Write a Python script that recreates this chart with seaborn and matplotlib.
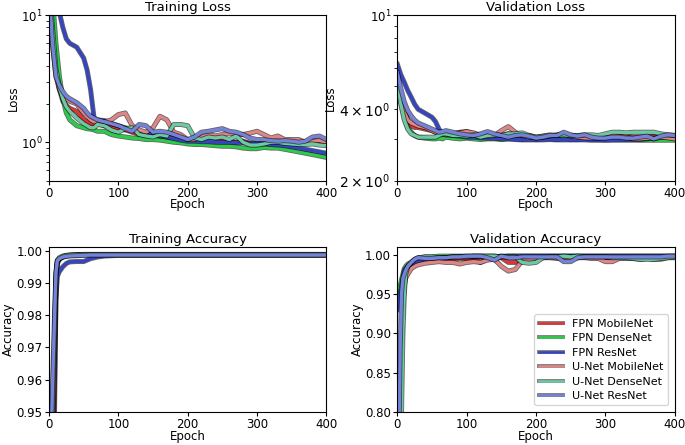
import matplotlib
matplotlib.use('Agg')
import matplotlib.pyplot as plt
import matplotlib.patheffects as pe
import matplotlib.ticker as mticker
import pandas as pd
import seaborn as sns

# ── Data ──────────────────────────────────────────────────────────────────
MODELS = ['FPN MobileNet', 'FPN DenseNet', 'FPN ResNet',
          'U-Net MobileNet', 'U-Net DenseNet', 'U-Net ResNet']
COLORS = ['#dd3535', '#2bcc4a', '#3545c0', '#de8585', '#6cc9a3', '#7482da']

EPOCHS_LOSS = [0, 5, 10, 15, 20, 25, 30, 40, 50, 55, 60, 65, 70,
               80, 90, 100, 110, 120, 130, 140, 150, 160, 170, 180, 190, 200,
               210, 220, 230, 240, 250, 260, 270, 280, 290, 300,
               310, 320, 330, 340, 350, 360, 370, 380, 390, 400]

EPOCHS_ACC = [0, 2, 4, 6, 8, 10, 12, 15, 20, 25, 30, 40, 50, 60,
              70, 80, 90, 100, 110, 120, 130, 140, 150, 160, 170, 180, 190, 200,
              210, 220, 230, 240, 250, 260, 270, 280, 290, 300,
              310, 320, 330, 340, 350, 360, 370, 380, 390, 400]

train_loss_fpn_mobile = [20, 7, 3.6, 2.6, 2.1, 1.95, 1.85, 1.75, 1.5, 1.45, 1.4, 1.38, 1.4,
                         1.35, 1.3, 1.28, 1.25, 1.2, 1.15, 1.15, 1.12, 1.1, 1.08, 1.1, 1.05, 1.03,
                         1.05, 1.08, 1.1, 1.08, 1.05, 1.02, 1.0, 1.02, 0.98, 0.97,
                         1.0, 0.98, 1.0, 1.02, 1.0, 1.03, 0.99, 1.04, 1.0, 0.97]
train_loss_fpn_dense = [30, 14, 6, 3.3, 2.2, 1.7, 1.5, 1.35, 1.3, 1.28, 1.27, 1.25, 1.22,
                        1.22, 1.15, 1.12, 1.1, 1.08, 1.07, 1.05, 1.05, 1.04, 1.02, 1.0, 0.99, 0.97,
                        0.96, 0.96, 0.95, 0.94, 0.93, 0.93, 0.92, 0.9, 0.89, 0.89,
                        0.91, 0.9, 0.9, 0.88, 0.86, 0.84, 0.82, 0.8, 0.78, 0.76]
train_loss_fpn_res = [40, 22, 14, 10.5, 8, 6.5, 6.0, 5.6, 4.6, 3.7, 2.6, 1.55, 1.5,
                      1.48, 1.4, 1.35, 1.3, 1.25, 1.2, 1.18, 1.15, 1.12, 1.1, 1.07, 1.04, 1.02,
                      1.02, 1.01, 1.01, 1.0, 1.0, 1.0, 0.99, 0.99, 0.98, 0.98,
                      0.97, 0.96, 0.95, 0.94, 0.92, 0.9, 0.88, 0.86, 0.84, 0.82]
train_loss_unet_mobile = [18, 6, 3.3, 2.6, 2.3, 2.2, 2.1, 2.0, 1.7, 1.6, 1.5, 1.45, 1.45,
                          1.45, 1.5, 1.65, 1.7, 1.35, 1.25, 1.2, 1.3, 1.6, 1.5, 1.2, 1.15, 1.05,
                          1.05, 1.1, 1.15, 1.12, 1.15, 1.18, 1.15, 1.15, 1.18, 1.22,
                          1.15, 1.08, 1.12, 1.05, 1.05, 1.05, 1.0, 1.02, 1.03, 1.0]
train_loss_unet_dense = [20, 8, 3.8, 2.7, 2.2, 1.9, 1.75, 1.55, 1.4, 1.35, 1.3, 1.3, 1.38,
                         1.35, 1.25, 1.2, 1.28, 1.3, 1.15, 1.12, 1.1, 1.15, 1.12, 1.38, 1.38, 1.35,
                         1.08, 1.05, 1.1, 1.08, 1.1, 1.05, 1.12, 1.0, 0.95, 0.95,
                         0.97, 1.0, 1.0, 0.98, 0.97, 0.96, 0.96, 0.97, 0.95, 0.94]
train_loss_unet_res = [16, 6, 3.3, 2.8, 2.5, 2.3, 2.2, 2.05, 1.85, 1.7, 1.6, 1.55, 1.5,
                       1.45, 1.4, 1.35, 1.28, 1.22, 1.38, 1.35, 1.2, 1.22, 1.2, 1.15, 1.1, 1.05,
                       1.1, 1.2, 1.22, 1.25, 1.28, 1.22, 1.2, 1.15, 1.08, 1.05,
                       1.05, 1.03, 1.02, 1.03, 1.02, 1.0, 1.02, 1.1, 1.12, 1.05]

val_loss_fpn_mobile = [5.5, 4.6, 4.0, 3.6, 3.4, 3.35, 3.35, 3.3, 3.25, 3.2, 3.2, 3.18, 3.15,
                       3.15, 3.2, 3.22, 3.15, 3.12, 3.15, 3.1, 3.1, 3.15, 3.12, 3.08, 3.1, 3.05,
                       3.08, 3.1, 3.08, 3.12, 3.1, 3.08, 3.05, 3.08, 3.05, 3.05,
                       3.08, 3.1, 3.08, 3.05, 3.05, 3.05, 3.08, 3.05, 3.02, 3.02]
val_loss_fpn_dense = [5.3, 4.3, 3.7, 3.35, 3.2, 3.1, 3.05, 3.02, 3.0, 3.0, 3.02, 3.0, 3.05,
                      3.02, 3.0, 3.02, 3.0, 2.98, 3.0, 3.0, 2.98, 3.0, 3.0, 2.98, 3.0, 2.98,
                      3.0, 3.0, 2.98, 3.0, 2.98, 2.98, 3.0, 2.98, 2.98, 2.97,
                      2.98, 2.97, 2.97, 2.97, 2.96, 2.96, 2.96, 2.96, 2.96, 2.96]
val_loss_fpn_res = [6.2, 5.6, 5.2, 4.8, 4.5, 4.2, 4.0, 3.85, 3.7, 3.55, 3.3, 3.15, 3.12,
                    3.1, 3.08, 3.05, 3.05, 3.03, 3.02, 3.02, 3.0, 3.0, 2.98, 2.97, 2.97, 2.97,
                    2.97, 2.98, 2.97, 2.97, 2.97, 2.97, 2.97, 2.96, 2.96, 2.96,
                    2.96, 2.97, 2.97, 2.97, 2.98, 3.0, 3.02, 3.05, 3.05, 3.05]
val_loss_unet_mobile = [5.4, 4.5, 3.9, 3.6, 3.5, 3.45, 3.4, 3.35, 3.25, 3.2, 3.15, 3.15, 3.12,
                        3.15, 3.18, 3.22, 3.18, 3.1, 3.08, 3.1, 3.25, 3.38, 3.2, 3.1, 3.05, 3.03,
                        3.05, 3.08, 3.12, 3.15, 3.08, 3.05, 3.03, 3.02, 3.02, 3.05,
                        3.1, 3.08, 3.05, 3.0, 3.0, 3.02, 3.0, 3.05, 3.03, 3.0]
val_loss_unet_dense = [5.2, 4.2, 3.6, 3.3, 3.15, 3.1, 3.05, 3.05, 3.05, 3.05, 3.1, 3.15, 3.15,
                       3.1, 3.1, 3.08, 3.12, 3.05, 3.1, 3.12, 3.1, 3.15, 3.15, 3.18, 3.1, 3.05,
                       3.08, 3.12, 3.1, 3.12, 3.1, 3.1, 3.12, 3.12, 3.1, 3.15,
                       3.2, 3.2, 3.18, 3.2, 3.2, 3.2, 3.2, 3.15, 3.12, 3.1]
val_loss_unet_res = [5.7, 4.9, 4.3, 3.95, 3.75, 3.6, 3.5, 3.4, 3.3, 3.25, 3.2, 3.22, 3.25,
                     3.2, 3.15, 3.12, 3.1, 3.15, 3.22, 3.15, 3.1, 3.05, 3.1, 3.12, 3.08, 3.02,
                     3.05, 3.1, 3.1, 3.2, 3.12, 3.08, 3.12, 3.05, 3.02, 3.02,
                     3.05, 3.05, 3.02, 3.02, 3.05, 3.08, 3.0, 3.08, 3.12, 3.1]

train_acc_fpn_mobile = [0.85, 0.88, 0.91, 0.93, 0.95, 0.985, 0.996, 0.9972, 0.998, 0.9983, 0.9985, 0.9986, 0.9987, 0.9987,
                        0.9987, 0.9987, 0.9987, 0.9987, 0.9987, 0.9987, 0.9987, 0.9987, 0.9987, 0.9987, 0.9987, 0.9987, 0.9987, 0.9987,
                        0.9987, 0.9987, 0.9987, 0.9987, 0.9987, 0.9987, 0.9987, 0.9987, 0.9987, 0.9987,
                        0.9987, 0.9987, 0.9987, 0.9987, 0.9987, 0.9987, 0.9987, 0.9987, 0.9987, 0.9987]
train_acc_fpn_dense = [0.90, 0.92, 0.94, 0.955, 0.97, 0.99, 0.996, 0.9975, 0.9982, 0.9985, 0.9986, 0.9987, 0.9988, 0.9988,
                       0.9988, 0.9988, 0.9988, 0.9988, 0.9988, 0.9988, 0.9988, 0.9988, 0.9988, 0.9988, 0.9988, 0.9988, 0.9988, 0.9988,
                       0.9988, 0.9988, 0.9988, 0.9988, 0.9988, 0.9988, 0.9988, 0.9988, 0.9988, 0.9988,
                       0.9988, 0.9988, 0.9988, 0.9988, 0.9988, 0.9988, 0.9988, 0.9988, 0.9988, 0.9988]
train_acc_fpn_res = [0.88, 0.90, 0.92, 0.94, 0.96, 0.985, 0.992, 0.9935, 0.995, 0.996, 0.9965, 0.9966, 0.9966, 0.9975,
                     0.998, 0.9983, 0.9984, 0.9985, 0.9985, 0.9985, 0.9985, 0.9985, 0.9985, 0.9985, 0.9985, 0.9985, 0.9985, 0.9985,
                     0.9985, 0.9985, 0.9985, 0.9985, 0.9985, 0.9985, 0.9985, 0.9985, 0.9985, 0.9985,
                     0.9985, 0.9985, 0.9985, 0.9985, 0.9985, 0.9985, 0.9985, 0.9985, 0.9985, 0.9985]
train_acc_unet_mobile = [0.88, 0.91, 0.93, 0.95, 0.97, 0.992, 0.9968, 0.9975, 0.998, 0.9983, 0.9985, 0.9986, 0.9987, 0.9987,
                         0.9987, 0.9987, 0.9987, 0.9987, 0.9987, 0.9987, 0.9987, 0.9987, 0.9987, 0.9987, 0.9987, 0.9987, 0.9987, 0.9987,
                         0.9987, 0.9987, 0.9987, 0.9987, 0.9987, 0.9987, 0.9987, 0.9987, 0.9987, 0.9987,
                         0.9987, 0.9987, 0.9987, 0.9987, 0.9987, 0.9987, 0.9987, 0.9987, 0.9987, 0.9987]
train_acc_unet_dense = [0.90, 0.92, 0.94, 0.96, 0.975, 0.993, 0.997, 0.9978, 0.9983, 0.9985, 0.9986, 0.9987, 0.9988, 0.9988,
                        0.9988, 0.9988, 0.9988, 0.9988, 0.9988, 0.9988, 0.9988, 0.9988, 0.9988, 0.9988, 0.9988, 0.9988, 0.9988, 0.9988,
                        0.9988, 0.9988, 0.9988, 0.9988, 0.9988, 0.9988, 0.9988, 0.9988, 0.9988, 0.9988,
                        0.9988, 0.9988, 0.9988, 0.9988, 0.9988, 0.9988, 0.9988, 0.9988, 0.9988, 0.9988]
train_acc_unet_res = [0.92, 0.935, 0.95, 0.965, 0.98, 0.993, 0.9968, 0.9975, 0.998, 0.9982, 0.9983, 0.9984, 0.9985, 0.9986,
                      0.9986, 0.9986, 0.9986, 0.9986, 0.9986, 0.9986, 0.9986, 0.9986, 0.9986, 0.9986, 0.9986, 0.9986, 0.9986, 0.9986,
                      0.9986, 0.9986, 0.9986, 0.9986, 0.9986, 0.9986, 0.9986, 0.9986, 0.9986, 0.9986,
                      0.9986, 0.9986, 0.9986, 0.9986, 0.9986, 0.9986, 0.9986, 0.9986, 0.9986, 0.9986]

val_acc_fpn_mobile = [0.70, 0.78, 0.85, 0.90, 0.94, 0.965, 0.975, 0.98, 0.985, 0.988, 0.99, 0.991, 0.992, 0.993,
                      0.994, 0.994, 0.995, 0.995, 0.994, 0.990, 0.995, 0.996, 0.996, 0.990, 0.990, 0.995, 0.993, 0.996,
                      0.997, 0.997, 0.996, 0.997, 0.997, 0.996, 0.997, 0.997, 0.997, 0.996,
                      0.997, 0.997, 0.997, 0.996, 0.997, 0.997, 0.997, 0.997, 0.997, 0.997]
val_acc_fpn_dense = [0.95, 0.955, 0.96, 0.968, 0.975, 0.982, 0.985, 0.988, 0.99, 0.993, 0.995, 0.997, 0.997, 0.998,
                     0.998, 0.998, 0.998, 0.998, 0.998, 0.998, 0.998, 0.998, 0.997, 0.998, 0.998, 0.998, 0.998, 0.998,
                     0.998, 0.998, 0.998, 0.998, 0.998, 0.998, 0.998, 0.998, 0.998, 0.998,
                     0.998, 0.998, 0.998, 0.998, 0.998, 0.998, 0.998, 0.998, 0.998, 0.998]
val_acc_fpn_res = [0.93, 0.94, 0.95, 0.96, 0.97, 0.98, 0.982, 0.985, 0.988, 0.99, 0.992, 0.993, 0.993, 0.995,
                   0.996, 0.997, 0.997, 0.997, 0.997, 0.997, 0.997, 0.997, 0.998, 0.998, 0.998, 0.998, 0.998, 0.998,
                   0.998, 0.998, 0.998, 0.998, 0.998, 0.998, 0.998, 0.998, 0.998, 0.998,
                   0.998, 0.998, 0.998, 0.998, 0.998, 0.998, 0.998, 0.998, 0.998, 0.998]
val_acc_unet_mobile = [0.60, 0.70, 0.80, 0.88, 0.93, 0.96, 0.97, 0.975, 0.982, 0.985, 0.987, 0.989, 0.99, 0.991,
                       0.99, 0.99, 0.988, 0.99, 0.991, 0.99, 0.993, 0.994, 0.985, 0.979, 0.981, 0.992, 0.993, 0.995,
                       0.996, 0.996, 0.995, 0.996, 0.995, 0.996, 0.996, 0.995, 0.995, 0.991,
                       0.991, 0.995, 0.995, 0.995, 0.994, 0.995, 0.994, 0.994, 0.996, 0.996]
val_acc_unet_dense = [0.55, 0.60, 0.70, 0.80, 0.90, 0.95, 0.975, 0.985, 0.99, 0.994, 0.996, 0.997, 0.997, 0.996,
                      0.996, 0.997, 0.997, 0.997, 0.998, 0.998, 0.998, 0.998, 0.997, 0.997, 0.997, 0.99, 0.989, 0.99,
                      0.996, 0.997, 0.997, 0.998, 0.997, 0.998, 0.997, 0.997, 0.997, 0.997,
                      0.996, 0.996, 0.996, 0.995, 0.994, 0.994, 0.994, 0.995, 0.996, 0.997]
val_acc_unet_res = [0.60, 0.75, 0.88, 0.95, 0.97, 0.975, 0.98, 0.985, 0.99, 0.994, 0.996, 0.995, 0.995, 0.996,
                    0.996, 0.997, 0.997, 0.998, 0.998, 0.998, 0.996, 0.993, 0.998, 0.996, 0.996, 0.997, 0.997, 0.997,
                    0.997, 0.997, 0.997, 0.991, 0.991, 0.996, 0.997, 0.997, 0.997, 0.997,
                    0.997, 0.997, 0.997, 0.997, 0.997, 0.997, 0.997, 0.997, 0.998, 0.998]

PANELS = [
    ('Training Loss', 'Loss', EPOCHS_LOSS,
     [train_loss_fpn_mobile, train_loss_fpn_dense, train_loss_fpn_res,
      train_loss_unet_mobile, train_loss_unet_dense, train_loss_unet_res]),
    ('Validation Loss', 'Loss', EPOCHS_LOSS,
     [val_loss_fpn_mobile, val_loss_fpn_dense, val_loss_fpn_res,
      val_loss_unet_mobile, val_loss_unet_dense, val_loss_unet_res]),
    ('Training Accuracy', 'Accuracy', EPOCHS_ACC,
     [train_acc_fpn_mobile, train_acc_fpn_dense, train_acc_fpn_res,
      train_acc_unet_mobile, train_acc_unet_dense, train_acc_unet_res]),
    ('Validation Accuracy', 'Accuracy', EPOCHS_ACC,
     [val_acc_fpn_mobile, val_acc_fpn_dense, val_acc_fpn_res,
      val_acc_unet_mobile, val_acc_unet_dense, val_acc_unet_res]),
]
YLIMS = [(0.5, 10), (2, 10), (0.95, 1.0012), (0.8, 1.01)]


def minor_label(v, pos):
    # only 2x and 4x get a label, as in the reference
    if abs(v - 2) < 1e-6 or abs(v - 4) < 1e-6:
        return r'$\mathdefault{%d\times10^{0}}$' % round(v)
    return ''


# ── Plot ──────────────────────────────────────────────────────────────────
fig, axes = plt.subplots(2, 2, figsize=(6.85, 4.45), dpi=100)
plt.subplots_adjust(left=0.0715, right=0.985, top=0.966, bottom=0.074,
                    wspace=0.256, hspace=0.40)

outline = [pe.Stroke(linewidth=3.6, foreground='black', alpha=0.6), pe.Normal()]

for i, (ax, (title, ylabel, epochs, series)) in enumerate(zip(axes.flat, PANELS)):
    df = pd.concat([pd.DataFrame({'Epoch': epochs, 'value': vals, 'Model': name})
                    for name, vals in zip(MODELS, series)], ignore_index=True)
    sns.lineplot(data=df, x='Epoch', y='value', hue='Model', hue_order=MODELS,
                 palette=COLORS, lw=2.4, ax=ax, legend=(i == 3))
    for line in ax.lines:
        line.set_path_effects(outline)
    if i < 2:
        ax.set_yscale('log')
    ax.set_xlim(0, 400)
    ax.set_ylim(*YLIMS[i])
    if i == 1:
        ax.yaxis.set_minor_formatter(mticker.FuncFormatter(minor_label))
    ax.set_title(title, fontsize=9.5, pad=3)
    ax.set_xlabel('Epoch', fontsize=8.5, labelpad=-1)
    ax.set_ylabel(ylabel, fontsize=8.5, labelpad=1)
    ax.tick_params(labelsize=8.5, length=3, pad=1.5)
    ax.tick_params(which='minor', length=2)

leg = axes[1, 1].legend(loc='lower right', fontsize=8, title=None,
                        handlelength=2.2, labelspacing=0.4, borderaxespad=0.6)
for h in leg.legend_handles:
    h.set_linewidth(1.8)
    h.set_path_effects([pe.Stroke(linewidth=2.8, foreground='gray'), pe.Normal()])

fig.savefig('out.png', dpi=100)
